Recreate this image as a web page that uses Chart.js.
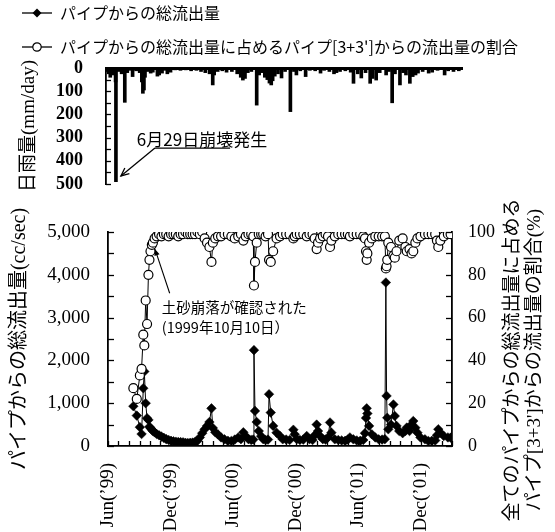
<!DOCTYPE html>
<html><head><meta charset="utf-8">
<script src="https://cdn.jsdelivr.net/npm/chart.js@4.4.1/dist/chart.umd.min.js"></script>
<style>
html,body{margin:0;padding:0;background:#fff;width:555px;height:532px;overflow:hidden}
#wrap{position:relative;width:555px;height:532px}
#main{position:absolute;left:0;top:-13px}
#rain{position:absolute;left:0;top:30px}
</style></head><body>
<div id="wrap">
<canvas id="main" width="555" height="545"></canvas>
<canvas id="rain" width="555" height="190"></canvas>
</div>
<script>
// ---------------- data ----------------
const sampleDates = ['1999-08-14','1999-08-24','1999-09-02','1999-09-07','1999-09-12','1999-09-15','1999-09-19','1999-09-23','1999-09-27','1999-09-30',
 '1999-10-03','1999-10-07','1999-10-10','1999-10-15','1999-10-21','1999-10-28','1999-11-04','1999-11-11','1999-11-18','1999-11-25',
 '1999-12-02','1999-12-09','1999-12-16','1999-12-23','1999-12-30','2000-01-06','2000-01-13','2000-01-20','2000-01-27',
 '2000-02-03','2000-02-10','2000-02-17','2000-02-24','2000-03-02','2000-03-09','2000-03-16','2000-03-23','2000-03-29',
 '2000-04-02','2000-04-09','2000-04-17','2000-04-26','2000-05-06','2000-05-16','2000-05-26','2000-06-05','2000-06-15','2000-06-23','2000-06-30',
 '2000-07-07','2000-07-15','2000-07-23','2000-07-29','2000-07-31','2000-08-03','2000-08-08','2000-08-14','2000-08-21','2000-08-27',
 '2000-09-03','2000-09-10','2000-09-13','2000-09-18','2000-09-25','2000-10-05','2000-10-15','2000-10-23',
 '2000-11-02','2000-11-12','2000-11-23','2000-11-27','2000-12-03','2000-12-12','2000-12-22',
 '2001-01-01','2001-01-09','2001-01-18','2001-01-24','2001-01-30','2001-02-03','2001-02-09','2001-02-17','2001-02-25',
 '2001-03-04','2001-03-10','2001-03-14','2001-03-24','2001-04-03','2001-04-13','2001-04-23','2001-05-01','2001-05-07','2001-05-17','2001-05-27',
 '2001-06-06','2001-06-15','2001-06-20','2001-06-23','2001-06-25','2001-06-27','2001-07-02','2001-07-10','2001-07-20','2001-07-30',
 '2001-08-09','2001-08-17','2001-08-20','2001-08-22','2001-08-24','2001-08-27','2001-09-04','2001-09-11','2001-09-15','2001-09-20','2001-09-28',
 '2001-10-08','2001-10-16','2001-10-20','2001-10-28','2001-11-03','2001-11-08','2001-11-14','2001-11-20','2001-11-29','2001-12-12','2001-12-22',
 '2002-01-01','2002-01-11','2002-01-16','2002-01-20','2002-01-26','2002-02-05','2002-02-17','2002-02-25'];

const totalFlow = [930,710,440,280,1350,1740,1000,650,610,450,
 420,380,350,320,280,250,220,190,160,140,
 120,110,100,95,90,85,75,70,75,
 80,95,120,200,300,390,470,560,880,
 420,320,270,200,156,120,117,150,200,160,320,
 230,160,140,150,2240,820,560,350,230,160,
 140,150,1210,780,470,310,235,156,
 150,140,380,273,160,140,150,
 234,160,140,250,500,350,234,160,150,
 200,550,312,156,140,130,120,150,200,156,130,
 120,140,300,655,880,760,470,273,200,156,
 150,160,3820,1170,660,390,500,970,700,470,350,
 300,350,430,350,500,584,428,312,200,156,117,
 120,130,250,390,312,234,200,195];

const pipeShare = [27,22,33,36,52,47,68,57,80,87,
 91,94,95,97,98,99,98,99,99,98,
 99,99,99,98,99,99,100,99,99,
 99,99,100,99,100,97,95,93,86,
 95,97,98,98,99,99,98,97,98,99,96,
 98,99,99,98,75,86,95,99,99,99,
 98,99,87,86,91,97,98,99,
 99,99,97,98,99,99,99,
 98,99,99,97,92,95,97,98,99,
 98,93,96,98,99,99,99,99,98,99,99,
 99,98,97,91,87,90,95,97,98,98,
 98,98,83,84,87,95,93,89,88,91,96,
 97,93,91,92,90,91,95,97,98,99,99,
 99,99,96,93,96,98,99,99];

const rainDates = ['1999-06-04','1999-06-09','1999-06-13','1999-06-18','1999-06-23','1999-06-28','1999-06-29','1999-07-06','1999-07-15','1999-07-24',
 '1999-07-31','1999-08-08','1999-08-15','1999-08-25','1999-09-04','1999-09-10','1999-09-13','1999-09-16','1999-09-19','1999-09-27',
 '1999-10-05','1999-10-11','1999-10-24','1999-10-29','1999-11-06','1999-11-13','1999-11-21','1999-11-30','1999-12-13','1999-12-28',
 '2000-01-12','2000-01-27','2000-02-11','2000-02-24','2000-03-07','2000-03-19','2000-03-28','2000-04-01','2000-04-11','2000-04-24',
 '2000-05-06','2000-05-21','2000-06-05','2000-06-15','2000-06-21','2000-06-27','2000-07-05','2000-07-15','2000-07-30','2000-08-06',
 '2000-08-14','2000-08-22','2000-08-29','2000-09-04','2000-09-09','2000-09-13','2000-09-19','2000-09-28','2000-10-08','2000-10-18',
 '2000-11-02','2000-11-12','2000-11-19','2000-11-30','2000-12-15','2000-12-27','2001-01-11','2001-01-26','2001-02-05','2001-02-20',
 '2001-03-05','2001-03-12','2001-03-22','2001-04-06','2001-04-21','2001-04-29','2001-05-11','2001-05-21','2001-06-02','2001-06-15',
 '2001-06-22','2001-07-02','2001-07-12','2001-07-30','2001-08-07','2001-08-16','2001-08-24','2001-09-07','2001-09-16','2001-09-24',
 '2001-10-05','2001-10-13','2001-10-21','2001-10-28','2001-11-10','2001-11-27','2001-12-07','2001-12-22','2002-01-11','2002-01-21',
 '2002-02-05','2002-02-20'];
const rainMm = [15,25,40,20,30,60,490,15,25,148,
 20,10,37,12,20,60,109,95,40,15,
 22,18,35,30,22,10,25,18,8,10,
 8,12,10,15,20,25,73,30,15,12,
 18,15,25,40,52,45,20,15,160,30,
 20,40,50,65,73,55,35,25,43,15,
 188,15,30,12,37,10,12,22,10,15,
 25,20,15,12,18,66,25,43,20,66,
 45,52,20,30,15,150,25,73,20,30,
 66,37,30,22,15,22,18,10,30,12,
 15,12];

const flowLabels = [0,1000,2000,3000,4000,5000];
const shareLabels = [0,20,40,60,80,100];
const rainLabels = [0,100,200,300,400,500];
const xLabelMonths = ['1999-06','1999-12','2000-06','2000-12','2001-06','2001-12'];
const xLabelText = ['Jun(\u201999)','Dec(\u201999)','Jun(\u201900)','Dec(\u201900)','Jun(\u201901)','Dec(\u201901)'];
const legendLabels = ['パイプからの総流出量','パイプからの総流出量に占めるパイプ[3+3\']からの流出量の割合'];
const flowTitle = 'パイプからの総流出量(cc/sec)';
const rainTitle = '日雨量(mm/day)';
const shareTitle = ['全てのパイプからの総流出量に占める','パイプ[3+3\']からの流出量の割合(%)'];
const slideNote = {lines:['土砂崩落が確認された','(1999年10月10日）'], pointDate:'1999-10-10'};
const collapseNote = {text:'6月29日崩壊発生', pointDate:'1999-06-29'};

// ---------------- helpers ----------------
const DAY0 = Date.UTC(1999,5,1);
const toDay = s => { const [y,m,d] = s.split('-').map(Number); return (Date.UTC(y,m-1,d||1) - DAY0)/86400000; };
const X_END = toDay('2002-03-01');
const monthTicks = [];
for (let i = 0; ; i++) {
  const y = 1999 + Math.floor((5+i)/12), m = (5+i)%12;
  const v = (Date.UTC(y,m,1) - DAY0)/86400000;
  if (v > X_END) break;
  monthTicks.push({value:v, key:y+'-'+String(m+1).padStart(2,'0')});
}
const xLabelFor = v => { const t = monthTicks.find(t => t.value === v); if (!t) return ''; const k = xLabelMonths.indexOf(t.key); return k >= 0 ? xLabelText[k] : ''; };
const withHalves = arr => { const out=[]; arr.forEach((v,i)=>{ out.push(v); if (i<arr.length-1) out.push((v+arr[i+1])/2); }); return out; };

const serif = "'Liberation Serif', 'Times New Roman', serif";
const jp = "'Noto Sans CJK JP', sans-serif";
const mixed = "'Liberation Serif', 'Noto Sans CJK JP', serif";

function makeIcon(kind) {
  const c = document.createElement('canvas'); c.width = 34; c.height = 12;
  const g = c.getContext('2d');
  g.strokeStyle = '#000'; g.lineWidth = 1.3;
  g.beginPath(); g.moveTo(4,6); g.lineTo(34,6); g.stroke();
  if (kind === 'diamond') {
    g.fillStyle = '#000'; g.beginPath(); g.moveTo(14.5,6); g.lineTo(19,1.5); g.lineTo(23.5,6); g.lineTo(19,10.5); g.closePath(); g.fill();
  } else {
    g.fillStyle = '#fff'; g.lineWidth = 1.2; g.beginPath(); g.arc(19,6,4.2,0,Math.PI*2); g.fill(); g.stroke();
  }
  return c;
}
const icons = [makeIcon('diamond'), makeIcon('circle')];

function arrow(ctx, sx, sy, ex, ey, shorten, head, filled) {
  const dx = ex-sx, dy = ey-sy, L = Math.hypot(dx,dy), ux = dx/L, uy = dy/L;
  const tx = ex - ux*shorten, ty = ey - uy*shorten;
  ctx.beginPath(); ctx.moveTo(sx,sy); ctx.lineTo(tx,ty); ctx.stroke();
  const bx = tx - ux*head, by = ty - uy*head, px = -uy*head*0.45, py = ux*head*0.45;
  ctx.beginPath(); ctx.moveTo(bx+px,by+py); ctx.lineTo(tx,ty); ctx.lineTo(bx-px,by-py);
  if (filled) { ctx.closePath(); ctx.fill(); } else ctx.stroke();
}

const inTicks = {
  id:'inTicks',
  afterDraw(chart, args, opts) {
    const {ctx, chartArea:a} = chart;
    ctx.save(); ctx.strokeStyle = '#000'; ctx.lineWidth = 1.3;
    (opts.axes || []).forEach(([id, side, len]) => {
      const s = chart.scales[id];
      s.ticks.forEach(t => {
        const p = Math.round(s.getPixelForValue(t.value)) + 0.5;
        ctx.beginPath();
        if (side === 'left') { ctx.moveTo(a.left, p); ctx.lineTo(a.left+len, p); }
        else if (side === 'right') { ctx.moveTo(a.right, p); ctx.lineTo(a.right-len, p); }
        else { ctx.moveTo(p, a.bottom); ctx.lineTo(p, a.bottom-len); }
        ctx.stroke();
      });
    });
    ctx.restore();
  }
};

const mainNotes = {
  id:'mainNotes',
  afterDraw(chart) {
    const {ctx, chartArea:a, scales:{x, y, y2}} = chart;
    ctx.save(); ctx.fillStyle = '#000'; ctx.strokeStyle = '#000'; ctx.lineWidth = 1.1;
    ctx.font = '14.5px ' + jp; ctx.textAlign = 'left'; ctx.textBaseline = 'middle';
    const tx = x.getPixelForValue(toDay('1999-11-05'));
    ctx.fillText(slideNote.lines[0], tx, y.getPixelForValue(3225));
    ctx.fillText(slideNote.lines[1], tx, y.getPixelForValue(2780));
    const i = sampleDates.indexOf(slideNote.pointDate);
    arrow(ctx, x.getPixelForValue(toDay('1999-11-28')), y.getPixelForValue(3570),
          x.getPixelForValue(toDay(sampleDates[i])), y2.getPixelForValue(pipeShare[i]), 7, 6, true);
    // right axis title (reads bottom-to-top)
    ctx.font = '19px ' + mixed; ctx.textAlign = 'center';
    const cy = (a.top + a.bottom)/2 + 21;
    shareTitle.forEach((t, k) => {
      ctx.save(); ctx.translate(a.right + 61 + k*22, cy); ctx.rotate(-Math.PI/2); ctx.fillText(t, 0, 0); ctx.restore();
    });
    ctx.restore();
  }
};

const rainNotes = {
  id:'rainNotes',
  afterDraw(chart) {
    const {ctx, scales:{x, y}} = chart;
    ctx.save(); ctx.fillStyle = '#000'; ctx.strokeStyle = '#000'; ctx.lineWidth = 1.3;
    ctx.font = '17px ' + jp; ctx.textAlign = 'left'; ctx.textBaseline = 'middle';
    ctx.fillText(collapseNote.text, x.getPixelForValue(toDay('1999-08-27')), y.getPixelForValue(310));
    const ly = y.getPixelForValue(345);
    const lx0 = x.getPixelForValue(toDay('1999-10-17')), lx1 = x.getPixelForValue(toDay('2000-05-16'));
    ctx.beginPath(); ctx.moveTo(lx0, ly); ctx.lineTo(lx1, ly); ctx.stroke();
    arrow(ctx, lx0, ly, x.getPixelForValue(toDay(collapseNote.pointDate)) + 5, y.getPixelForValue(465), 0, 8, false);
    ctx.restore();
  }
};

// ---------------- main chart ----------------
new Chart(document.getElementById('main'), {
  type:'line',
  data:{ datasets:[
    { label:legendLabels[1], yAxisID:'y2', order:0,
      data: sampleDates.map((d,i)=>({x:toDay(d), y:pipeShare[i]})),
      borderColor:'#000', borderWidth:1, pointStyle:'circle', pointRadius:4.5,
      pointBackgroundColor:'#fff', pointBorderColor:'#000', pointBorderWidth:1.2, tension:0 },
    { label:legendLabels[0], yAxisID:'y', order:1,
      data: sampleDates.map((d,i)=>({x:toDay(d), y:totalFlow[i]})),
      borderColor:'#000', borderWidth:1, pointStyle:'rectRot', pointRadius:4.8,
      pointBackgroundColor:'#000', pointBorderColor:'#000', pointBorderWidth:0.5, tension:0 }
  ]},
  options:{
    responsive:false, animation:false, layout:{padding:0},
    plugins:{
      tooltip:{enabled:false},
      legend:{ display:true, position:'top', align:'start',
        labels:{ usePointStyle:true, pointStyleWidth:34, padding:18, color:'#000', font:{family:jp, size:16},
          generateLabels:() => legendLabels.map((t,i)=>({text:t, pointStyle:icons[i], fillStyle:'#000', strokeStyle:'#000', lineWidth:0, hidden:false, datasetIndex:i, fontColor:'#000'})) } },
      inTicks:{ axes:[['y','left',6],['y2','right',6],['x','bottom',5]] }
    },
    scales:{
      x:{ type:'linear', position:'bottom', min:0, max:X_END, offset:false,
        afterBuildTicks:s=>{ s.ticks = monthTicks.map(t=>({value:t.value})); },
        afterFit:s=>{ s.height = 86; },
        grid:{display:false, drawTicks:false}, border:{display:true, color:'#000', width:1.8},
        ticks:{autoSkip:false, minRotation:90, maxRotation:90, padding:17, color:'#000', font:{family:serif, size:19}, callback:v=>xLabelFor(v)} },
      xTop:{ type:'linear', position:'top', display:true, grid:{display:false, drawTicks:false}, border:{display:false}, ticks:{display:false},
        afterFit:s=>{ s.height = 245 - (s.chart.legend ? s.chart.legend.height : 0); } },
      y:{ position:'left', min:0, max:5000,
        afterBuildTicks:s=>{ s.ticks = withHalves(flowLabels).map(v=>({value:v})); },
        afterFit:s=>{ s.width = 108; },
        grid:{display:false, drawTicks:false}, border:{display:true, color:'#000', width:1.8},
        ticks:{autoSkip:false, padding:18, color:'#000', font:{family:serif, size:19}, callback:v=>flowLabels.includes(v) ? v.toLocaleString('en-US') : ''},
        title:{display:true, text:flowTitle, color:'#000', font:{family:mixed, size:20}, padding:{top:8, bottom:0}} },
      y2:{ position:'right', min:0, max:100,
        afterBuildTicks:s=>{ s.ticks = withHalves(shareLabels).map(v=>({value:v})); },
        afterFit:s=>{ s.width = 103; },
        grid:{display:false, drawTicks:false}, border:{display:true, color:'#000', width:1.8},
        ticks:{autoSkip:false, padding:16, color:'#000', font:{family:serif, size:18}, callback:v=>shareLabels.includes(v) ? String(v) : ''} }
    }
  },
  plugins:[inTicks, mainNotes]
});

// ---------------- rain chart ----------------
new Chart(document.getElementById('rain'), {
  type:'bar',
  data:{ datasets:[{ label:rainTitle, data: rainDates.map((d,i)=>({x:toDay(d), y:rainMm[i]})),
    backgroundColor:'#000', borderWidth:0, barThickness:3, grouped:false }] },
  options:{
    responsive:false, animation:false, layout:{padding:{top:0, right:93, bottom:36, left:0}},
    plugins:{ legend:{display:false}, tooltip:{enabled:false}, inTicks:{ axes:[['y','left',5]] } },
    scales:{
      x:{ type:'linear', position:'top', min:0, max:X_END, offset:false,
        grid:{display:false, drawTicks:false}, ticks:{display:false}, border:{display:true, color:'#000', width:3},
        afterFit:s=>{ s.height = 38; } },
      y:{ position:'left', reverse:true, min:0, max:500,
        afterBuildTicks:s=>{ s.ticks = withHalves(rainLabels).map(v=>({value:v})); },
        afterFit:s=>{ s.width = 106; },
        grid:{display:false, drawTicks:false}, border:{display:true, color:'#000', width:1.8},
        ticks:{autoSkip:false, padding:23, color:'#000', font:{family:serif, size:18, weight:'bold'}, callback:v=>rainLabels.includes(v) ? String(v) : ''},
        title:{display:true, text:rainTitle, color:'#000', font:{family:mixed, size:19}, padding:{top:18, bottom:0}} }
    }
  },
  plugins:[inTicks, rainNotes]
});
</script>
</body></html>
